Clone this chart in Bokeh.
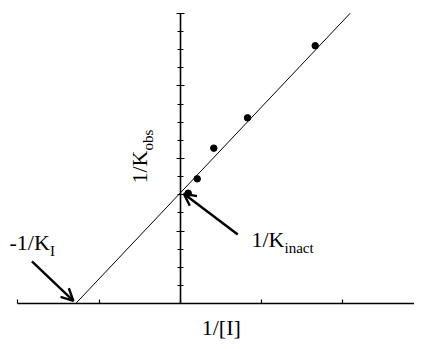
import math
from bokeh.plotting import figure
from bokeh.models import (LinearAxis, FixedTicker, CustomJSTickFormatter, Label,
                          Arrow, OpenHead)
from bokeh.embed import file_html
from bokeh.resources import INLINE

# ---- data ----
inv_conc = [0.095, 0.206, 0.41, 0.825, 1.658]      # 1/[I]
inv_kobs = [6.09, 6.88, 8.57, 10.24, 14.21]         # 1/K_obs
fit_x = [-1.292, 2.089]                             # fitted line ends
fit_y = [0.0, 16.0]
x_ticks = [-2, -1, 0, 1, 2, 3]
y_major_ticks = [0, 4, 8, 12, 16]
y_minor_ticks = list(range(0, 17))
arrow_ki = dict(x_start=-1.828, y_start=2.33, x_end=-1.318, y_end=0.16)
arrow_kinact = dict(x_start=0.705, y_start=3.82, x_end=0.041, y_end=6.06)

FONT = "Liberation Serif"

p = figure(width=414, height=341, output_backend="svg", toolbar_location=None,
           x_range=(-2.215, 2.880), y_range=(-2.076, 16.70),
           x_axis_location=None, y_axis_location=None,
           min_border=0, min_border_left=0, min_border_right=0,
           min_border_top=0, min_border_bottom=0)
p.outline_line_color = None
p.xgrid.visible = False
p.ygrid.visible = False
p.background_fill_color = "white"
p.border_fill_color = "white"

blank = CustomJSTickFormatter(code="return ''")

xaxis = LinearAxis(fixed_location=0, bounds=(-2, 3),
                   ticker=FixedTicker(ticks=x_ticks), formatter=blank)
xaxis.axis_line_width = 1.6
xaxis.major_tick_in = 4
xaxis.major_tick_out = 0
xaxis.minor_tick_line_color = None
xaxis.major_tick_line_width = 1.2
xaxis.major_label_text_font_size = "0px"
p.add_layout(xaxis, "below")

yaxis = LinearAxis(fixed_location=0, bounds=(0, 16),
                   ticker=FixedTicker(ticks=y_major_ticks, minor_ticks=y_minor_ticks),
                   formatter=blank)
yaxis.axis_line_width = 1.6
yaxis.major_tick_in = 4
yaxis.major_tick_out = 4
yaxis.minor_tick_in = 3
yaxis.minor_tick_out = 3
yaxis.major_tick_line_width = 1.2
yaxis.minor_tick_line_width = 1.2
yaxis.major_label_text_font_size = "0px"
p.add_layout(yaxis, "left")

# fitted line
p.line(fit_x, fit_y, line_color="black", line_width=1)

# data points
p.scatter(inv_conc, inv_kobs, size=6.5, color="black")

# arrows
for a in (arrow_ki, arrow_kinact):
    p.add_layout(Arrow(end=OpenHead(size=12, line_width=2.4, line_color="black"),
                       line_width=2.4, line_color="black", **a))

def lab(x, y, text, size, **kw):
    p.add_layout(Label(x=x, y=y, text=text, text_font=FONT, text_font_size=size,
                       text_color="black", **kw))

# -1/K_I
lab(-2.105, 2.70, "-1/K", "22px")
lab(-2.105, 2.70, "I", "15px", x_offset=40.5, y_offset=-4)

# 1/K_inact
lab(0.874, 2.84, "1/K", "22px")
lab(0.874, 2.84, "inact", "15px", x_offset=33, y_offset=-3.5)

# y label 1/K_obs (rotated)
lab(-0.345, 6.62, "1/K", "22px", angle=math.pi / 2)
lab(-0.345, 6.62, "obs", "15px", angle=math.pi / 2, x_offset=3.5, y_offset=33)

# x label
lab(0.502, -1.98, "1/[I]", "22px", text_align="center")

open("out.html", "w").write(file_html(p, INLINE))
